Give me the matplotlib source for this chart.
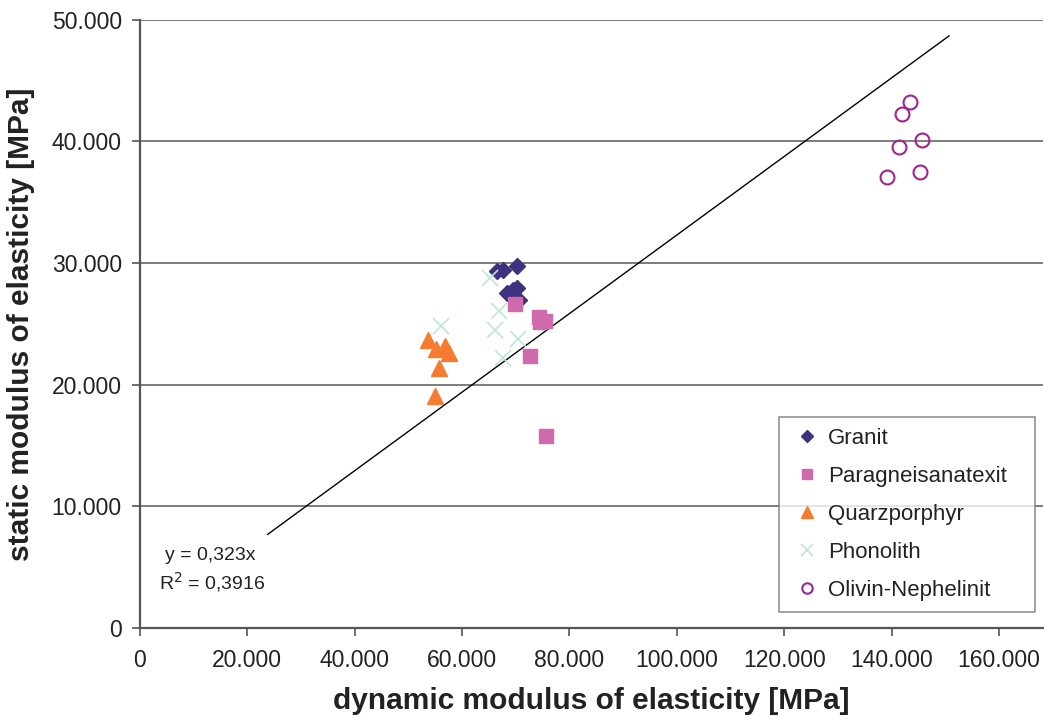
import matplotlib
matplotlib.use('Agg')
import matplotlib.pyplot as plt
from matplotlib.ticker import FuncFormatter, MultipleLocator

plt.rcParams['font.family'] = ['Liberation Sans', 'DejaVu Sans']

# data (MPa)
granit_x = [66500, 67600, 70200, 68400, 69500, 70200, 70600]
granit_y = [29350, 29450, 29770, 27550, 27800, 27960, 26970]

para_x = [69850, 74300, 75450, 74500, 72650, 75600]
para_y = [26650, 25580, 25250, 25160, 22370, 15790]

quarz_x = [53650, 55130, 56800, 57550, 55700, 54950]
quarz_y = [23680, 22940, 23190, 22610, 21380, 19080]

phono_x = [65200, 56050, 66850, 66100, 70400, 67600]
phono_y = [28780, 24840, 26070, 24510, 23770, 22200]

olivin_x = [143400, 141900, 145650, 141350, 145300, 139150]
olivin_y = [43260, 42270, 40130, 39560, 37500, 37090]

slope = 0.323
r2 = 0.3916
trend_x = [23800, 150700]

fig = plt.figure(figsize=(10.44, 7.2), dpi=100)
ax = fig.add_axes([0.134, 0.128, 0.865, 0.8445])

ax.plot(granit_x, granit_y, 'D', color='#3d3180', ms=8, mec='#3d3180', ls='none', label='Granit')
ax.plot(para_x, para_y, 's', color='#cf6aad', ms=10, mec='#cf6aad', ls='none', label='Paragneisanatexit')
ax.plot(quarz_x, quarz_y, '^', color='#f47b30', ms=11, mec='#f47b30', ls='none', label='Quarzporphyr')
ax.plot(phono_x, phono_y, 'x', color='#bfe6d3', ms=11, mew=1.2, ls='none', label='Phonolith')
ax.plot(olivin_x, olivin_y, 'o', mfc='none', mec='#a0238f', ms=10, mew=1.5, ls='none', label='Olivin-Nephelinit')

# trendline through origin
ax.plot(trend_x, [slope * v for v in trend_x], color='black', lw=1, zorder=1)

fig.text(165 / 1044, 1 - 555 / 720, 'y = 0,323x', fontsize=14, color='#222222', va='center')
fig.text(159 / 1044, 1 - 582 / 720, 'R$^2$ = ' + str(r2).replace('.', ','),
         fontsize=14, color='#222222', va='center')

ax.set_xlim(0, 168200)
ax.set_ylim(0, 50000)
ax.xaxis.set_major_locator(MultipleLocator(20000))
ax.yaxis.set_major_locator(MultipleLocator(10000))


def fmt(v, pos):
    if v == 0:
        return '0'
    return f'{int(round(v)):,}'.replace(',', '.')


ax.xaxis.set_major_formatter(FuncFormatter(fmt))
ax.yaxis.set_major_formatter(FuncFormatter(fmt))

ax.grid(axis='y', color='#666666', lw=1.2)
ax.set_axisbelow(True)
for s in ['top', 'right']:
    ax.spines[s].set_visible(False)
for s in ['left', 'bottom']:
    ax.spines[s].set_color('#555555')
    ax.spines[s].set_linewidth(1.6)
ax.tick_params(direction='out', length=6, width=1.2, color='#555555',
               labelsize=16.5, labelcolor='#222222')
ax.tick_params(axis='x', pad=9)
ax.tick_params(axis='y', pad=7)

ax.set_xlabel('dynamic modulus of elasticity [MPa]', fontsize=21.5, fontweight='bold',
              color='#222222', labelpad=11)
ax.set_ylabel('static modulus of elasticity [MPa]', fontsize=21.5, fontweight='bold',
              color='#222222', labelpad=12)

leg = ax.legend(loc='lower left', bbox_to_anchor=(0.7076, 0.0263, 0.2834, 0.331),
                mode='expand', fontsize=16, frameon=True, fancybox=False,
                edgecolor='#777777', borderpad=0.5, handlelength=1.5,
                handletextpad=0.2, labelspacing=0.76, markerscale=0.75,
                borderaxespad=0)
leg.get_frame().set_linewidth(1.2)
for t in leg.get_texts():
    t.set_color('#222222')

fig.savefig('out.png', dpi=100)
